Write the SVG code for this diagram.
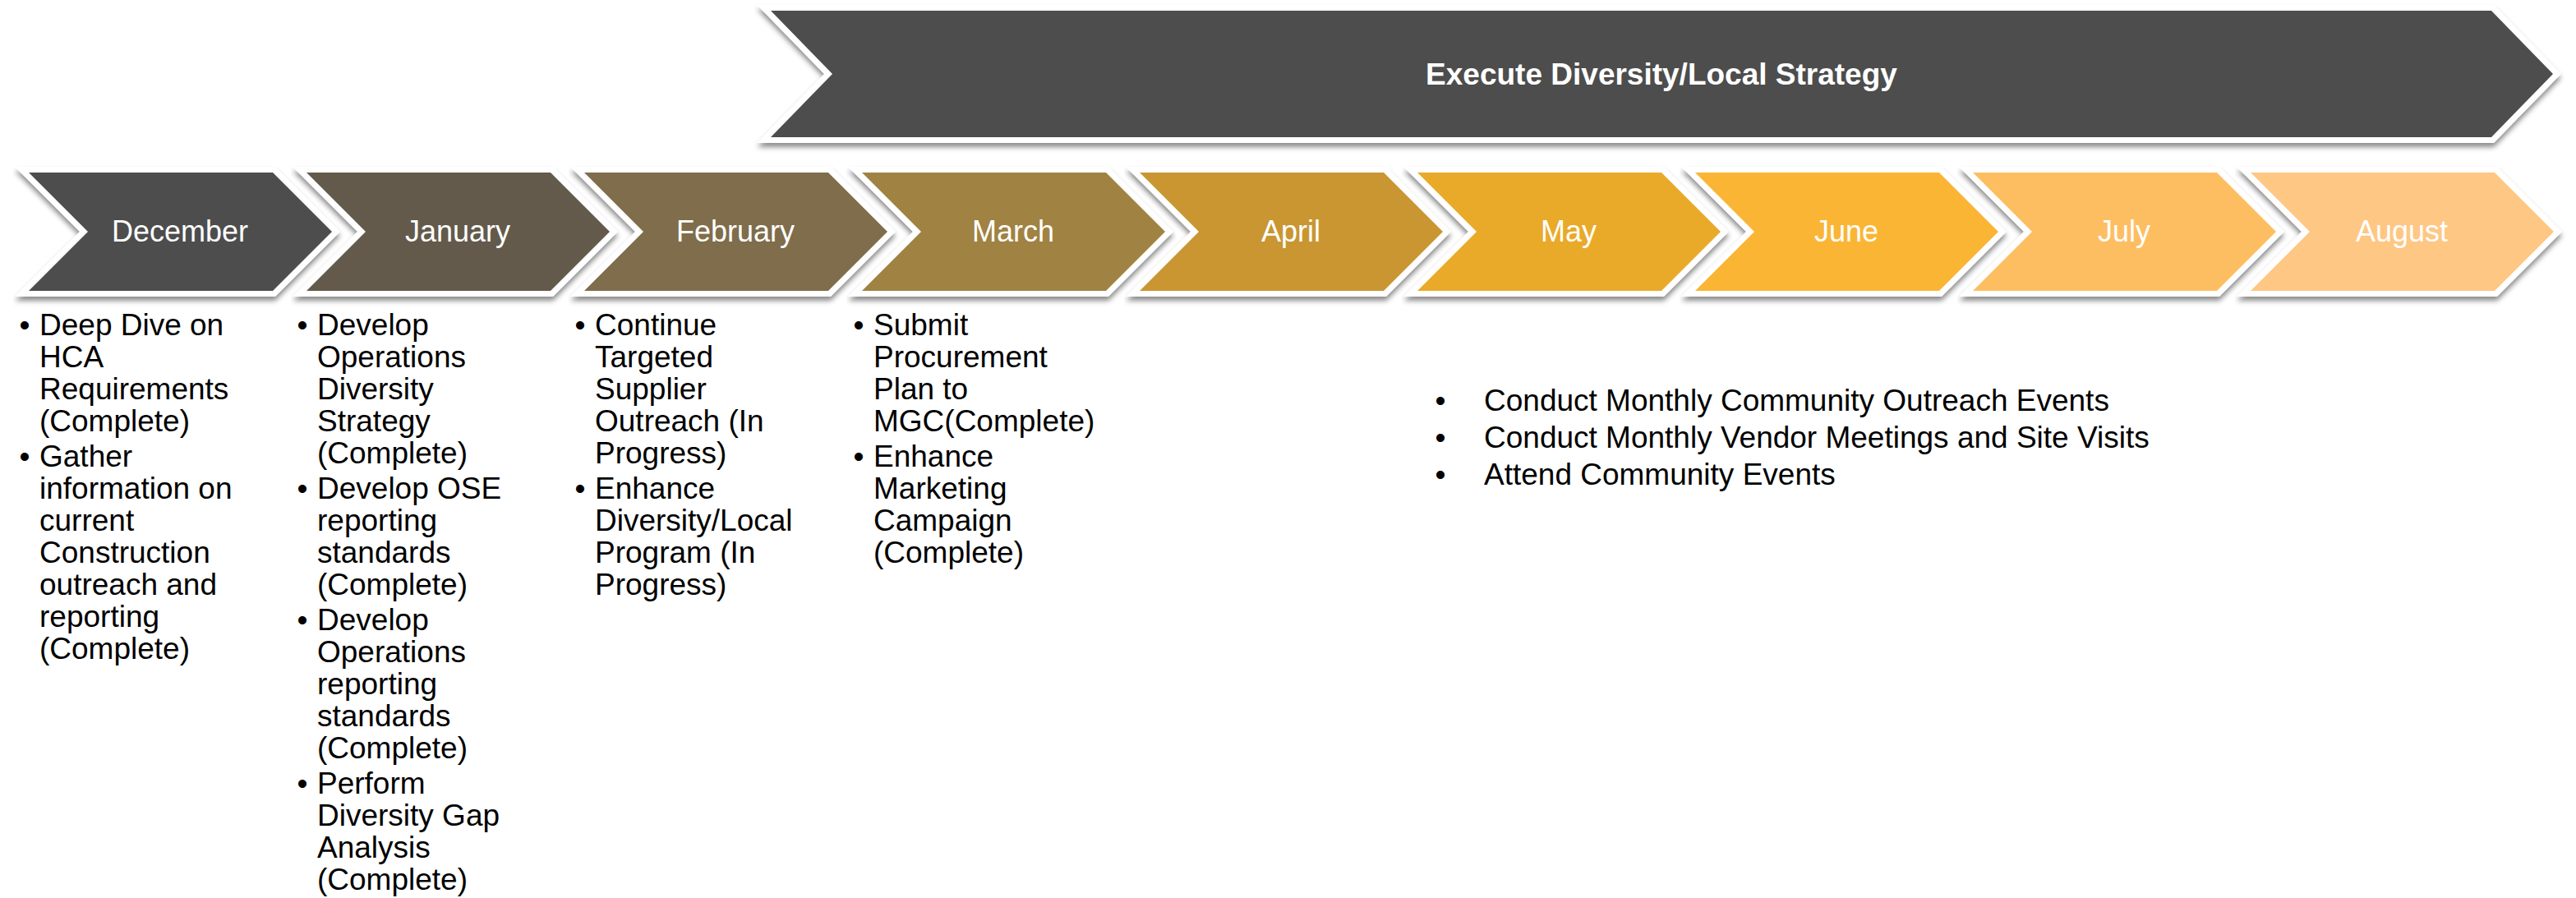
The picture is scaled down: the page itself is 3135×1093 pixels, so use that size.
<svg xmlns="http://www.w3.org/2000/svg" width="3135" height="1093" viewBox="0 0 3135 1093">
  <defs>
    <filter id="sh" x="-5%" y="-20%" width="110%" height="150%">
      <feDropShadow dx="0" dy="5" stdDeviation="3" flood-color="#000" flood-opacity="0.45"/>
    </filter>
    <style>
      .shape { stroke: #ffffff; stroke-width: 14; stroke-linejoin: miter; paint-order: stroke; filter: url(#sh); }
      .month { font-family: "Liberation Sans", Arial, sans-serif; font-size: 36px; fill: #ffffff; text-anchor: middle; }
      .title { font-family: "Liberation Sans", Arial, sans-serif; font-size: 37px; font-weight: bold; fill: #ffffff; text-anchor: middle; }
      .body { font-family: "Liberation Sans", Arial, sans-serif; font-size: 37px; fill: #000000; }
      .bul { font-family: "Liberation Sans", Arial, sans-serif; font-size: 37px; fill: #000000; text-anchor: middle; }
    </style>
  </defs>
  <rect width="3135" height="1093" fill="#ffffff"/>

  <g id="execute-strategy">
    <polygon class="shape" fill="#4d4d4d" points="938,13 3032,13 3107,90 3032,167 938,167 1013,90"/>
    <text class="title" x="2022" y="103">Execute Diversity/Local Strategy</text>
  </g>

  <g id="month-december">
    <polygon class="shape" fill="#4d4d4d" points="35,210 332,210 404,282 332,354 35,354 107,282"/>
    <text class="month" x="219" y="294">December</text>
  </g>
  <g id="month-january">
    <polygon class="shape" fill="#635a4c" points="373,210 670,210 742,282 670,354 373,354 445,282"/>
    <text class="month" x="557" y="294">January</text>
  </g>
  <g id="month-february">
    <polygon class="shape" fill="#7f6d4b" points="711,210 1008,210 1080,282 1008,354 711,354 783,282"/>
    <text class="month" x="895" y="294">February</text>
  </g>
  <g id="month-march">
    <polygon class="shape" fill="#a08242" points="1049,210 1346,210 1418,282 1346,354 1049,354 1121,282"/>
    <text class="month" x="1233" y="294">March</text>
  </g>
  <g id="month-april">
    <polygon class="shape" fill="#c99632" points="1387,210 1684,210 1756,282 1684,354 1387,354 1459,282"/>
    <text class="month" x="1571" y="294">April</text>
  </g>
  <g id="month-may">
    <polygon class="shape" fill="#e9aa2c" points="1725,210 2022,210 2094,282 2022,354 1725,354 1797,282"/>
    <text class="month" x="1909" y="294">May</text>
  </g>
  <g id="month-june">
    <polygon class="shape" fill="#fbb536" points="2063,210 2360,210 2432,282 2360,354 2063,354 2135,282"/>
    <text class="month" x="2247" y="294">June</text>
  </g>
  <g id="month-july">
    <polygon class="shape" fill="#fdbe62" points="2401,210 2698,210 2770,282 2698,354 2401,354 2473,282"/>
    <text class="month" x="2585" y="294">July</text>
  </g>
  <g id="month-august">
    <polygon class="shape" fill="#fec784" points="2739,210 3036,210 3108,282 3036,354 2739,354 2811,282"/>
    <text class="month" x="2923" y="294">August</text>
  </g>

  <g id="connectors"></g>

  <g id="tasks-december">
    <text class="bul" x="30" y="408">•</text>
    <text class="bul" x="30" y="568">•</text>
    <text class="body">
      <tspan x="48" y="408">Deep Dive on</tspan>
      <tspan x="48" y="447">HCA</tspan>
      <tspan x="48" y="486">Requirements</tspan>
      <tspan x="48" y="525">(Complete)</tspan>
      <tspan x="48" y="568">Gather</tspan>
      <tspan x="48" y="607">information on</tspan>
      <tspan x="48" y="646">current</tspan>
      <tspan x="48" y="685">Construction</tspan>
      <tspan x="48" y="724">outreach and</tspan>
      <tspan x="48" y="763">reporting</tspan>
      <tspan x="48" y="802">(Complete)</tspan>
    </text>
  </g>

  <g id="tasks-january">
    <text class="bul" x="368" y="408">•</text>
    <text class="bul" x="368" y="607">•</text>
    <text class="bul" x="368" y="767">•</text>
    <text class="bul" x="368" y="966">•</text>
    <text class="body">
      <tspan x="386" y="408">Develop</tspan>
      <tspan x="386" y="447">Operations</tspan>
      <tspan x="386" y="486">Diversity</tspan>
      <tspan x="386" y="525">Strategy</tspan>
      <tspan x="386" y="564">(Complete)</tspan>
      <tspan x="386" y="607">Develop OSE</tspan>
      <tspan x="386" y="646">reporting</tspan>
      <tspan x="386" y="685">standards</tspan>
      <tspan x="386" y="724">(Complete)</tspan>
      <tspan x="386" y="767">Develop</tspan>
      <tspan x="386" y="806">Operations</tspan>
      <tspan x="386" y="845">reporting</tspan>
      <tspan x="386" y="884">standards</tspan>
      <tspan x="386" y="923">(Complete)</tspan>
      <tspan x="386" y="966">Perform</tspan>
      <tspan x="386" y="1005">Diversity Gap</tspan>
      <tspan x="386" y="1044">Analysis</tspan>
      <tspan x="386" y="1083">(Complete)</tspan>
    </text>
  </g>

  <g id="tasks-february">
    <text class="bul" x="706" y="408">•</text>
    <text class="bul" x="706" y="607">•</text>
    <text class="body">
      <tspan x="724" y="408">Continue</tspan>
      <tspan x="724" y="447">Targeted</tspan>
      <tspan x="724" y="486">Supplier</tspan>
      <tspan x="724" y="525">Outreach (In</tspan>
      <tspan x="724" y="564">Progress)</tspan>
      <tspan x="724" y="607">Enhance</tspan>
      <tspan x="724" y="646">Diversity/Local</tspan>
      <tspan x="724" y="685">Program (In</tspan>
      <tspan x="724" y="724">Progress)</tspan>
    </text>
  </g>

  <g id="tasks-march">
    <text class="bul" x="1045" y="408">•</text>
    <text class="bul" x="1045" y="568">•</text>
    <text class="body">
      <tspan x="1063" y="408">Submit</tspan>
      <tspan x="1063" y="447">Procurement</tspan>
      <tspan x="1063" y="486">Plan to</tspan>
      <tspan x="1063" y="525">MGC(Complete)</tspan>
      <tspan x="1063" y="568">Enhance</tspan>
      <tspan x="1063" y="607">Marketing</tspan>
      <tspan x="1063" y="646">Campaign</tspan>
      <tspan x="1063" y="685">(Complete)</tspan>
    </text>
  </g>

  <g id="tasks-ongoing">
    <text class="bul" x="1753" y="500">•</text>
    <text class="bul" x="1753" y="545">•</text>
    <text class="bul" x="1753" y="590">•</text>
    <text class="body">
      <tspan x="1806" y="500">Conduct Monthly Community Outreach Events</tspan>
      <tspan x="1806" y="545">Conduct Monthly Vendor Meetings and Site Visits</tspan>
      <tspan x="1806" y="590">Attend Community Events</tspan>
    </text>
  </g>
</svg>
